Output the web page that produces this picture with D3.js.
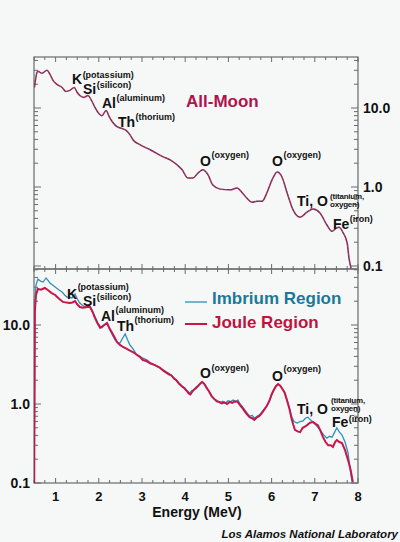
<!DOCTYPE html>
<html><head><meta charset="utf-8">
<script src="https://cdn.jsdelivr.net/npm/d3@7"></script>
<style>
html,body{margin:0;padding:0;background:#f6f8f8;}
svg{display:block;}
text{font-family:"Liberation Sans",Arial,Helvetica,sans-serif;font-weight:bold;}
</style></head>
<body>
<svg id="c" width="400" height="542"></svg>
<script>
// ---------- data ----------
const energyTicks = [1,2,3,4,5,6,7,8];
const countTicks = [0.1, 1, 10];
const countTickLabels = ["0.1","1.0","10.0"];

const allMoon = [[0.51,18.2],[0.57,28.3],[0.59,29.2],[0.685,27.5],[0.80,30.0],[0.87,26.7],[0.94,22.4],[1.03,19.9],[1.15,18.2],[1.24,16.2],[1.33,16.7],[1.43,18.2],[1.50,15.7],[1.56,14.4],[1.66,13.6],[1.75,14.4],[1.82,12.8],[1.91,10.2],[2.00,8.5],[2.07,8.0],[2.17,9.3],[2.24,7.8],[2.33,6.5],[2.42,5.8],[2.54,5.5],[2.63,5.2],[2.72,4.6],[2.79,3.97],[2.95,3.43],[3.19,2.96],[3.49,2.41],[3.65,2.21],[3.81,1.91],[3.93,1.65],[4.06,1.30],[4.18,1.30],[4.30,1.51],[4.41,1.65],[4.53,1.42],[4.64,1.06],[4.81,0.94],[5.04,0.92],[5.20,0.97],[5.31,0.86],[5.43,0.72],[5.55,0.64],[5.66,0.66],[5.78,0.66],[5.89,0.84],[6.01,1.23],[6.13,1.55],[6.24,1.34],[6.36,0.84],[6.50,0.51],[6.66,0.415],[6.82,0.48],[6.96,0.525],[7.12,0.47],[7.28,0.33],[7.40,0.275],[7.49,0.30],[7.56,0.31],[7.65,0.267],[7.75,0.194],[7.79,0.128],[7.84,0.093]];

const imbrium = [[0.505,0.1],[0.52,20],[0.546,32],[0.59,38.2],[0.65,36],[0.71,35],[0.78,39.4],[0.87,34],[0.93,32],[0.99,30.3],[1.07,28],[1.15,26.2],[1.21,24],[1.26,22.6],[1.32,22.5],[1.38,22.0],[1.45,24.7],[1.50,21.5],[1.56,19.0],[1.62,17.8],[1.68,16.9],[1.77,17.9],[1.82,16],[1.87,14.2],[1.93,12.2],[1.98,10.6],[2.03,9.6],[2.07,9.2],[2.13,9.9],[2.19,10.6],[2.26,8.6],[2.32,7.4],[2.38,6.46],[2.44,6.0],[2.49,5.9],[2.55,6.8],[2.61,7.7],[2.66,6.6],[2.72,5.58],[2.80,4.9],[2.88,4.17],[2.95,4.0],[3.02,3.8],[3.12,3.6],[3.2,3.3],[3.28,3.15],[3.35,3.0],[3.42,2.86],
[3.5,2.7],[3.56,2.55],[3.62,2.45],[3.68,2.28],[3.74,2.15],[3.8,2.0],[3.86,1.84],[3.92,1.7],[3.98,1.62],[4.04,1.48],[4.08,1.42],[4.11,1.38],[4.15,1.48],[4.2,1.5],[4.24,1.62],[4.3,1.72],[4.36,1.85],[4.4,1.92],[4.45,1.78],[4.5,1.62],[4.56,1.42],[4.62,1.25],[4.68,1.15],[4.75,1.1],[4.81,1.04],[4.87,1.08],[4.93,1.02],[4.99,1.1],[5.05,1.07],[5.11,1.12],[5.17,1.06],[5.22,1.12],[5.27,1.0],[5.32,0.93],[5.38,0.84],[5.44,0.76],[5.49,0.7],[5.55,0.72],[5.6,0.66],[5.66,0.7],[5.72,0.73],[5.78,0.8],[5.84,0.87],[5.9,0.96],[5.96,1.12],[6.01,1.35],[6.06,1.55],[6.11,1.7],[6.16,1.78],[6.21,1.68],[6.26,1.52],[6.31,1.36],[6.36,1.1],[6.42,0.86],[6.47,0.68],[6.52,0.6],[6.59,0.574],[6.66,0.6],[6.73,0.61],[6.78,0.66],[6.84,0.68],[6.9,0.63],[6.96,0.59],[7.04,0.53],[7.12,0.47],[7.2,0.41],[7.28,0.37],[7.34,0.39],[7.40,0.38],[7.46,0.44],[7.51,0.50],[7.57,0.44],[7.63,0.405],[7.70,0.33],[7.77,0.24],[7.81,0.16],[7.86,0.106],[7.88,0.1]];

const joule = [[0.505,0.1],[0.52,15],[0.546,24],[0.59,28.6],[0.66,28],[0.75,29.4],[0.82,27.7],[0.9,25.5],[0.99,24],[1.08,21.5],[1.17,19.6],[1.25,19.2],[1.33,19.0],[1.39,19.3],[1.45,20.1],[1.50,18.3],[1.56,16.9],[1.63,16.5],[1.73,16.9],[1.80,16.9],[1.86,14.5],[1.91,12.3],[1.97,10.5],[2.03,9.2],[2.10,9.8],[2.19,10.6],[2.25,9.0],[2.31,7.9],[2.37,6.9],[2.42,6.1],[2.49,5.6],[2.56,5.27],[2.65,5.0],[2.72,4.75],[2.79,4.55],[2.88,4.2],[2.95,3.95],[3.02,3.6],[3.1,3.5],[3.2,3.25],[3.3,3.1],[3.42,2.86],
[3.5,2.62],[3.56,2.5],[3.62,2.38],[3.68,2.3],[3.74,2.1],[3.8,1.98],[3.86,1.8],[3.92,1.68],[3.98,1.58],[4.04,1.46],[4.08,1.36],[4.12,1.32],[4.16,1.42],[4.2,1.52],[4.25,1.58],[4.3,1.7],[4.35,1.82],[4.39,1.9],[4.44,1.8],[4.5,1.58],[4.55,1.45],[4.61,1.26],[4.67,1.16],[4.73,1.08],[4.79,1.06],[4.85,1.02],[4.91,1.05],[4.97,1.0],[5.03,1.06],[5.09,1.03],[5.15,1.08],[5.21,1.07],[5.26,0.98],[5.31,0.91],[5.37,0.82],[5.43,0.74],[5.49,0.68],[5.55,0.66],[5.6,0.63],[5.65,0.67],[5.71,0.7],[5.77,0.76],[5.83,0.85],[5.89,0.95],[5.95,1.1],[6.0,1.32],[6.05,1.5],[6.1,1.68],[6.15,1.79],[6.2,1.7],[6.25,1.55],[6.3,1.4],[6.36,1.1],[6.41,0.88],[6.46,0.66],[6.50,0.55],[6.54,0.47],[6.6,0.45],[6.66,0.44],[6.72,0.5],[6.78,0.52],[6.82,0.54],[6.89,0.58],[6.96,0.59],[7.02,0.56],[7.07,0.54],[7.13,0.46],[7.19,0.38],[7.25,0.33],[7.31,0.30],[7.37,0.3],[7.42,0.286],[7.47,0.33],[7.51,0.35],[7.57,0.33],[7.63,0.32],[7.70,0.26],[7.77,0.195],[7.83,0.146],[7.88,0.103]];

// ---------- layout ----------
const svg = d3.select("#c");
const L = 34, R = 358;
const topY0 = 57, topY1 = 269, botY0 = 269, botY1 = 483;
const axisCol = "#6a6a6a";

const x = d3.scaleLinear().domain([0.5, 8]).range([L, R]);
const yTop = d3.scaleLog().domain([0.1, 10]).range([266, 108]);
const yBot = d3.scaleLog().domain([0.1, 10]).range([483, 325]);

function defsClip(id, y0, y1){
  svg.append("clipPath").attr("id", id).append("rect")
    .attr("x", L).attr("y", y0).attr("width", R - L).attr("height", y1 - y0);
}
defsClip("clipTop", topY0, topY1);
defsClip("clipBot", botY0, botY1);

const minorX = d3.range(0.5, 8.001, 0.25);

function frame(y0, y1, yScale, labelSide){
  const g = svg.append("g");
  minorX.forEach(v => {
    const major = Math.abs(v - Math.round(v)) < 1e-6;
    const len = major ? 5 : 3;
    g.append("line").attr("x1", x(v)).attr("x2", x(v)).attr("y1", y1).attr("y2", y1 - len)
      .attr("stroke", axisCol).attr("stroke-width", 1);
    g.append("line").attr("x1", x(v)).attr("x2", x(v)).attr("y1", y0).attr("y2", y0 + len)
      .attr("stroke", axisCol).attr("stroke-width", 1);
  });
  const vLo = yScale.invert(y1), vHi = yScale.invert(y0);
  const yt = [];
  for (let e = -2; e <= 2; e++) for (let m = 1; m <= 9; m++) {
    const v = m * Math.pow(10, e);
    if (v >= vLo * 0.999 && v <= vHi) yt.push([v, m === 1]);
  }
  yt.forEach(([v, major]) => {
    const len = major ? 7 : 4;
    const yy = yScale(v);
    g.append("line").attr("x1", L).attr("x2", L + len).attr("y1", yy).attr("y2", yy)
      .attr("stroke", axisCol).attr("stroke-width", 1);
    g.append("line").attr("x1", R).attr("x2", R - len).attr("y1", yy).attr("y2", yy)
      .attr("stroke", axisCol).attr("stroke-width", 1);
  });
  g.append("rect").attr("x", L).attr("y", y0).attr("width", R - L).attr("height", y1 - y0)
    .attr("fill", "none").attr("stroke", axisCol).attr("stroke-width", 1.2);
  countTicks.forEach((v, i) => {
    const t = g.append("text").attr("y", yScale(v) + 4.5).attr("font-size", 14).attr("fill", "#111")
      .text(countTickLabels[i]);
    if (labelSide === "right") t.attr("x", R + 5);
    else t.attr("x", L - 4).attr("text-anchor", "end");
  });
}

frame(topY0, topY1, yTop, "right");
frame(botY0, botY1, yBot, "left");

// ---------- curves ----------
const lineTop = d3.line().x(d => x(d[0])).y(d => yTop(d[1])).curve(d3.curveMonotoneX);
const lineBot = d3.line().x(d => x(d[0])).y(d => yBot(d[1]));

svg.append("path").datum(allMoon).attr("d", lineTop).attr("clip-path", "url(#clipTop)")
  .attr("fill", "none").attr("stroke", "#7a2a52").attr("stroke-width", 1.5);
svg.append("path").datum(allMoon).attr("d", lineTop).attr("clip-path", "url(#clipTop)")
  .attr("fill", "none").attr("stroke", "#e04a78").attr("stroke-width", 0.6).attr("stroke-dasharray", "2,2");

svg.append("path").datum(imbrium).attr("d", lineBot).attr("clip-path", "url(#clipBot)")
  .attr("fill", "none").attr("stroke", "#2d8fb8").attr("stroke-width", 1.3);
svg.append("path").datum(joule).attr("d", lineBot).attr("clip-path", "url(#clipBot)")
  .attr("fill", "none").attr("stroke", "#c8164a").attr("stroke-width", 2);

// ---------- x axis labels ----------
energyTicks.forEach(v => {
  svg.append("text").attr("x", x(v)).attr("y", 501).attr("text-anchor", "middle")
    .attr("font-size", 13).attr("fill", "#111").text(v);
});
svg.append("text").attr("x", 197).attr("y", 517).attr("text-anchor", "middle")
  .attr("font-size", 14).attr("fill", "#111").text("Energy (MeV)");
svg.append("text").attr("x", 398).attr("y", 538).attr("text-anchor", "end")
  .attr("font-size", 11.5).attr("font-style", "italic").attr("fill", "#111")
  .text("Los Alamos National Laboratory");

// ---------- element annotations ----------
function elem(xx, yy, main, sup, supDy){
  const t = svg.append("text").attr("x", xx).attr("y", yy).attr("font-size", 14).attr("fill", "#111").text(main);
  const w = t.node().getComputedTextLength();
  svg.append("text").attr("x", xx + w + 0.5).attr("y", yy - supDy).attr("font-size", 9)
    .attr("fill", "#111").text(sup);
}
function tiO(xx, yy, supX, y1, y2){
  svg.append("text").attr("x", xx).attr("y", yy).attr("font-size", 14).attr("fill", "#111").text("Ti, O");
  svg.append("text").attr("x", supX).attr("y", y1).attr("font-size", 8).attr("letter-spacing", -0.2)
    .attr("fill", "#111").text("(titanium,");
  svg.append("text").attr("x", supX).attr("y", y2).attr("font-size", 8).attr("letter-spacing", -0.2)
    .attr("fill", "#111").text("oxygen)");
}
// top panel
elem(72, 84, "K", "(potassium)", 6);
elem(83, 94, "Si", "(silicon)", 6);
elem(102, 108, "Al", "(aluminum)", 7);
elem(118, 127, "Th", "(thorium)", 7);
elem(200, 166, "O", "(oxygen)", 8);
elem(272, 166, "O", "(oxygen)", 8);
tiO(297, 206, 330, 198.5, 207);
elem(333, 229, "Fe", "(iron)", 7);

svg.append("text").attr("x", 186).attr("y", 107).attr("font-size", 17).attr("fill", "#b0144c").text("All-Moon");

// bottom panel
elem(67, 299, "K", "(potassium)", 9);
elem(83, 306, "Si", "(silicon)", 6);
elem(101, 321, "Al", "(aluminum)", 8);
elem(117, 331, "Th", "(thorium)", 8);
elem(200, 378, "O", "(oxygen)", 7);
elem(272, 381, "O", "(oxygen)", 9);
tiO(297, 414, 331, 402.5, 411);
elem(332, 427, "Fe", "(iron)", 5);

// legend
const legend = [["Imbrium Region", "#2d8fb8", "#1c7898", 1.3, 302, 304], ["Joule Region", "#c8164a", "#c0143e", 2, 324, 328]];
legend.forEach(([name, lc, tc, w, ly, ty]) => {
  svg.append("line").attr("x1", 185).attr("x2", 207).attr("y1", ly).attr("y2", ly)
    .attr("stroke", lc).attr("stroke-width", w);
  svg.append("text").attr("x", 212).attr("y", ty).attr("font-size", 17).attr("fill", tc).text(name);
});
</script>
</body></html>
